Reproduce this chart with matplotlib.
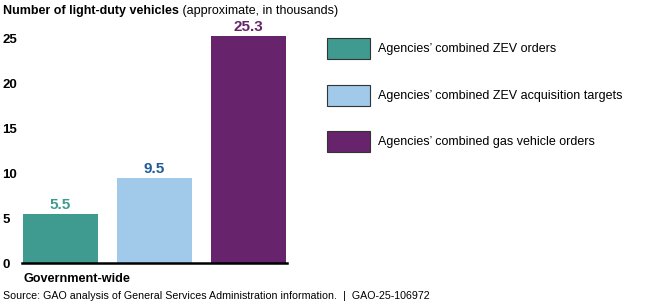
import matplotlib
matplotlib.use("Agg")
import matplotlib.pyplot as plt
from matplotlib.patches import Patch

plt.rcParams['font.family'] = ['Liberation Sans', 'DejaVu Sans']

series = ["Agencies\u2019 combined ZEV orders",
          "Agencies\u2019 combined ZEV acquisition targets",
          "Agencies\u2019 combined gas vehicle orders"]
values = [5.5, 9.5, 25.3]
value_labels = ["5.5", "9.5", "25.3"]
category = "Government-wide"
yticks = [0, 5, 10, 15, 20, 25]

colors = ["#3f9a90", "#a0c9ea", "#67246c"]
label_colors = ["#3f9a90", "#1f5b98", "#67246c"]

fig = plt.figure(figsize=(6.5, 3.06), dpi=100)
W, H = 650, 306
ax = fig.add_axes([22 / W, 43 / H, (287 - 22) / W, (263 - 21) / H])

x = list(range(len(values)))
bars = ax.bar(x, values, width=0.8, color=colors, zorder=2)
for xi, v, lab, c in zip(x, values, value_labels, label_colors):
    ax.annotate(lab, (xi, v), xytext=(0, 1.5), textcoords="offset points",
                ha="center", va="bottom", fontsize=11, fontweight="bold", color=c)

ax.set_xlim(-0.41, 2.41)
ax.set_ylim(0, 27)
ax.set_yticks(yticks)
ax.set_yticklabels([str(t) for t in yticks], fontsize=9.5, fontweight="bold")
for lbl in ax.get_yticklabels():
    lbl.set_horizontalalignment("left")
ax.tick_params(axis="y", length=0, pad=14)
ax.set_xticks([])
for s in ["top", "right", "left"]:
    ax.spines[s].set_visible(False)
ax.spines["bottom"].set_linewidth(1.8)
ax.spines["bottom"].set_color("black")
ax.spines["bottom"].set_zorder(3)

fig.text(23 / W, 1 - 279 / H, category, fontsize=9.1, fontweight="bold",
         ha="left", va="center")

t1 = fig.text(3 / W, 1 - 11 / H, "Number of light-duty vehicles", fontsize=9.0,
              fontweight="bold", ha="left", va="center")
fig.canvas.draw()
bb = t1.get_window_extent()
fig.text(bb.x1 / W, 1 - 11 / H, " (approximate, in thousands)", fontsize=9.0,
         ha="left", va="center")

fig.text(3 / W, 1 - 296 / H,
         "Source: GAO analysis of General Services Administration information.  |  GAO-25-106972",
         fontsize=7.7, ha="left", va="center")

handles = [Patch(facecolor=c, edgecolor="#333333", linewidth=0.8) for c in colors]
fig.legend(handles, series, loc="upper left", bbox_to_anchor=(322 / W, 1 - 33 / H),
           frameon=False, fontsize=9, handlelength=3.42, handleheight=2.2,
           labelspacing=2.05, handletextpad=0.65, borderaxespad=0)

fig.savefig("out.png", dpi=100)
